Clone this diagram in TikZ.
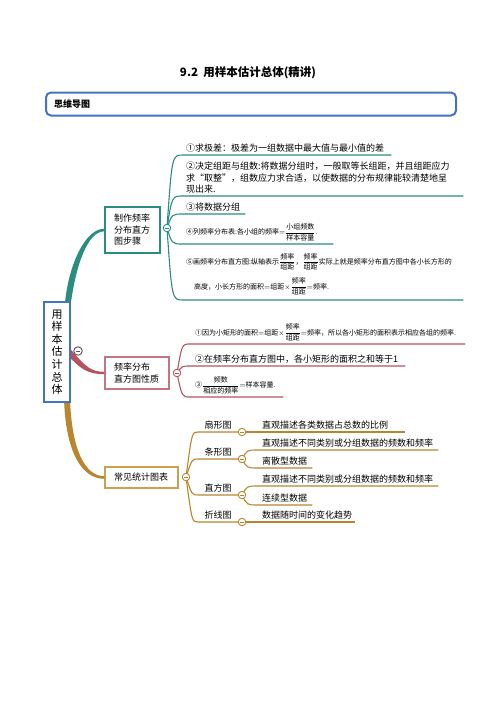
\documentclass[tikz,border=0pt]{standalone}
\usepackage{amsmath}
\usepackage{fontspec}
\setmainfont{Noto Sans CJK SC}
\usetikzlibrary{positioning}
\definecolor{MapTeal}{HTML}{2B8C80}
\definecolor{MapRed}{HTML}{B4545E}
\definecolor{MapRedBox}{HTML}{C27680}
\definecolor{MapGold}{HTML}{B8862E}
\definecolor{MapGoldBox}{HTML}{CBA150}
\definecolor{MapBlue}{HTML}{4472C4}
\definecolor{MapGray}{HTML}{555555}

\begin{document}
\begin{tikzpicture}[x=1pt, y=-1pt,
  topic/.style={draw=#1, line width=1.3pt, fill=white, align=left, inner sep=0pt, font=\fontsize{9}{11.5}\selectfont},
  leaf/.style={anchor=south west, inner xsep=3pt, inner ysep=2.5pt, align=left, font=\fontsize{9}{11.5}\selectfont},
  small/.style={font=\fontsize{7}{9}\selectfont, inner ysep=3pt},
  knob/.style={circle, draw=#1, fill=white, line width=0.9pt, minimum size=7.5pt, inner sep=0pt,
    path picture={\draw[#1, line width=0.9pt] ([xshift=-2.2pt]path picture bounding box.center) -- ([xshift=2.2pt]path picture bounding box.center);}},
  twig/.style={draw=#1, line width=1.1pt}
]
  \useasboundingbox (0,0) rectangle (496,702);

  % title and header bar
  \node[font=\bfseries\fontsize{11.5}{13}\selectfont] (title) at (248,73) {9.2\ \ 用样本估计总体(精讲)};
  \node[draw=MapBlue, line width=2pt, rounded corners=5pt, minimum height=23pt, text width=394pt, align=left, inner xsep=8pt, font=\bfseries\fontsize{9}{11}\selectfont] (mapbar) at (251,104) {思维导图};

  % root and first level topics
  \node[draw=MapBlue, line width=2.4pt, fill=white, minimum width=26pt, minimum height=100pt, align=center, inner sep=0pt, font=\fontsize{11}{12.6}\selectfont] (root) at (57,352) {用\\样\\本\\估\\计\\总\\体};
  \node[topic=MapTeal, minimum width=55pt, minimum height=46pt, text width=37pt] (steps) at (132.5,230) {制作频率\\分布直方\\图步骤};
  \node[topic=MapRedBox, minimum width=64pt, minimum height=32pt, text width=46pt] (prop) at (137,373) {频率分布\\直方图性质};
  \node[topic=MapGoldBox, minimum width=73pt, minimum height=21pt, text width=55pt] (chart) at (141.5,477.5) {常见统计图表};

  \fill[MapTeal] ([xshift=-6pt]root.north east) .. controls +(4,-37) and +(-19,0) .. ([yshift=1.3pt]steps.west)
    -- ([yshift=-1.3pt]steps.west) .. controls +(-17,0) and +(5,-35) .. (root.north east) -- cycle;
  \fill[MapRed] ([yshift=2pt]root.east) .. controls +(14,16) and +(-14,0) .. ([yshift=1.2pt]prop.west)
    -- ([yshift=-1.2pt]prop.west) .. controls +(-16,0) and +(10,10) .. ([yshift=-7pt]root.east) -- cycle;
  \fill[MapGold] ([xshift=-1pt]root.south east) .. controls +(2,45) and +(-20,0) .. ([yshift=1.3pt]chart.west)
    -- ([yshift=-1.3pt]chart.west) .. controls +(-24,0) and +(2,46) .. ([xshift=-7pt]root.south east) -- cycle;

  % steps branch
  \coordinate (stepsknob) at (167,228);
  \node[leaf, text width=202pt] (s1) at (183,155) {①求极差：极差为一组数据中最大值与最小值的差};
  \node[leaf, text width=274pt] (s2) at (183,196) {②决定组距与组数:将数据分组时，一般取等长组距，并且组距应力\\求“取整”，组数应力求合适，以使数据的分布规律能较清楚地呈\\现出来.};
  \node[leaf, text width=56pt] (s3) at (183,214) {③将数据分组};
  \node[leaf, small, text width=144pt] (s4) at (183,244) {④列频率分布表:各小组的频率${=}\dfrac{\mbox{小组频数}}{\mbox{样本容量}}$.};
  \node[leaf, small, inner ysep=5pt, text width=274pt] (s5) at (183,300) {⑤画频率分布直方图:纵轴表示$\dfrac{\mbox{频率}}{\mbox{组距}}$，$\dfrac{\mbox{频率}}{\mbox{组距}}$实际上就是频率分布直方图中各小长方形的\\[7pt]\hspace*{8pt}高度，小长方形的面积$=$组距${\times}\dfrac{\mbox{频率}}{\mbox{组距}}{=}$频率.};
  \foreach \s in {s1,s2,s3,s4,s5}
    \draw[twig=MapTeal] (stepsknob) .. controls ([xshift=5pt]stepsknob |- \s.south west) .. (\s.south west) -- (\s.south east);

  % property branch
  \coordinate (propknob) at (177,373);
  \node[leaf, small, inner xsep=5pt, text width=265pt] (p1) at (190,344) {①因为小矩形的面积$=$组距${\times}\dfrac{\mbox{频率}}{\mbox{组距}}{=}$频率，所以各小矩形的面积表示相应各组的频率.};
  \node[leaf, inner xsep=5pt, text width=205pt] (p2) at (190,366) {②在频率分布直方图中，各小矩形的面积之和等于1};
  \node[leaf, small, inner xsep=5pt, text width=83pt] (p3) at (190,397) {③$\dfrac{\mbox{频数}}{\mbox{相应的频率}}{=}$样本容量.};
  \foreach \s in {p1,p2,p3}
    \draw[twig=MapRed] (propknob) .. controls ([xshift=5pt]propknob |- \s.south west) .. (\s.south west) -- (\s.south east);

  % chart branch
  \coordinate (chartknob) at (186,477);
  \node[leaf, text width=34pt, align=center] (fan) at (198,432) {扇形图};
  \node[leaf, text width=34pt, align=center] (bar) at (198,459) {条形图};
  \node[leaf, text width=34pt, align=center] (hist) at (198,495) {直方图};
  \node[leaf, text width=34pt, align=center] (line) at (198,522) {折线图};
  \foreach \s in {fan,bar,hist,line}
    \draw[twig=MapGold] (chartknob) .. controls ([xshift=6pt]chartknob |- \s.south west) .. (\s.south west) -- (\s.south east);

  \coordinate (fanknob) at (242,432);
  \coordinate (barknob) at (242,459);
  \coordinate (histknob) at (242,495);
  \coordinate (lineknob) at (242,522);
  \draw[twig=MapGold] (fan.south east) -- (fanknob);
  \draw[twig=MapGold] (bar.south east) -- (barknob);
  \draw[twig=MapGold] (hist.south east) -- (histknob);
  \draw[twig=MapGold] (line.south east) -- (lineknob);

  \node[leaf, inner xsep=4pt, text width=139pt] (fan1) at (258,432) {直观描述各类数据占总数的比例};
  \node[leaf, inner xsep=4pt, text width=172pt] (bar1) at (258,450) {直观描述不同类别或分组数据的频数和频率};
  \node[leaf, inner xsep=4pt, text width=46pt] (bar2) at (258,468) {离散型数据};
  \node[leaf, inner xsep=4pt, text width=172pt] (hist1) at (258,486) {直观描述不同类别或分组数据的频数和频率};
  \node[leaf, inner xsep=4pt, text width=46pt] (hist2) at (258,505) {连续型数据};
  \node[leaf, inner xsep=4pt, text width=89pt] (line1) at (258,522) {数据随时间的变化趋势};
  \draw[twig=MapGold] (fanknob) -- (fan1.south west) -- (fan1.south east);
  \draw[twig=MapGold] (lineknob) -- (line1.south west) -- (line1.south east);
  \foreach \k/\s in {barknob/bar1, barknob/bar2, histknob/hist1, histknob/hist2}
    \draw[twig=MapGold] (\k) .. controls ([xshift=5pt]\k |- \s.south west) .. (\s.south west) -- (\s.south east);

  % collapse knobs
  \node[knob=MapGray, minimum size=8.5pt] (rootdot) at (78,351) {};
  \node[knob=MapTeal] (stepsdot) at (stepsknob) {};
  \node[knob=MapRed] (propdot) at (propknob) {};
  \node[knob=MapGold] (chartdot) at (chartknob) {};
  \node[knob=MapGold] (fandot) at (fanknob) {};
  \node[knob=MapGold] (bardot) at (barknob) {};
  \node[knob=MapGold] (histdot) at (histknob) {};
  \node[knob=MapGold] (linedot) at (lineknob) {};
\end{tikzpicture}
\end{document}
